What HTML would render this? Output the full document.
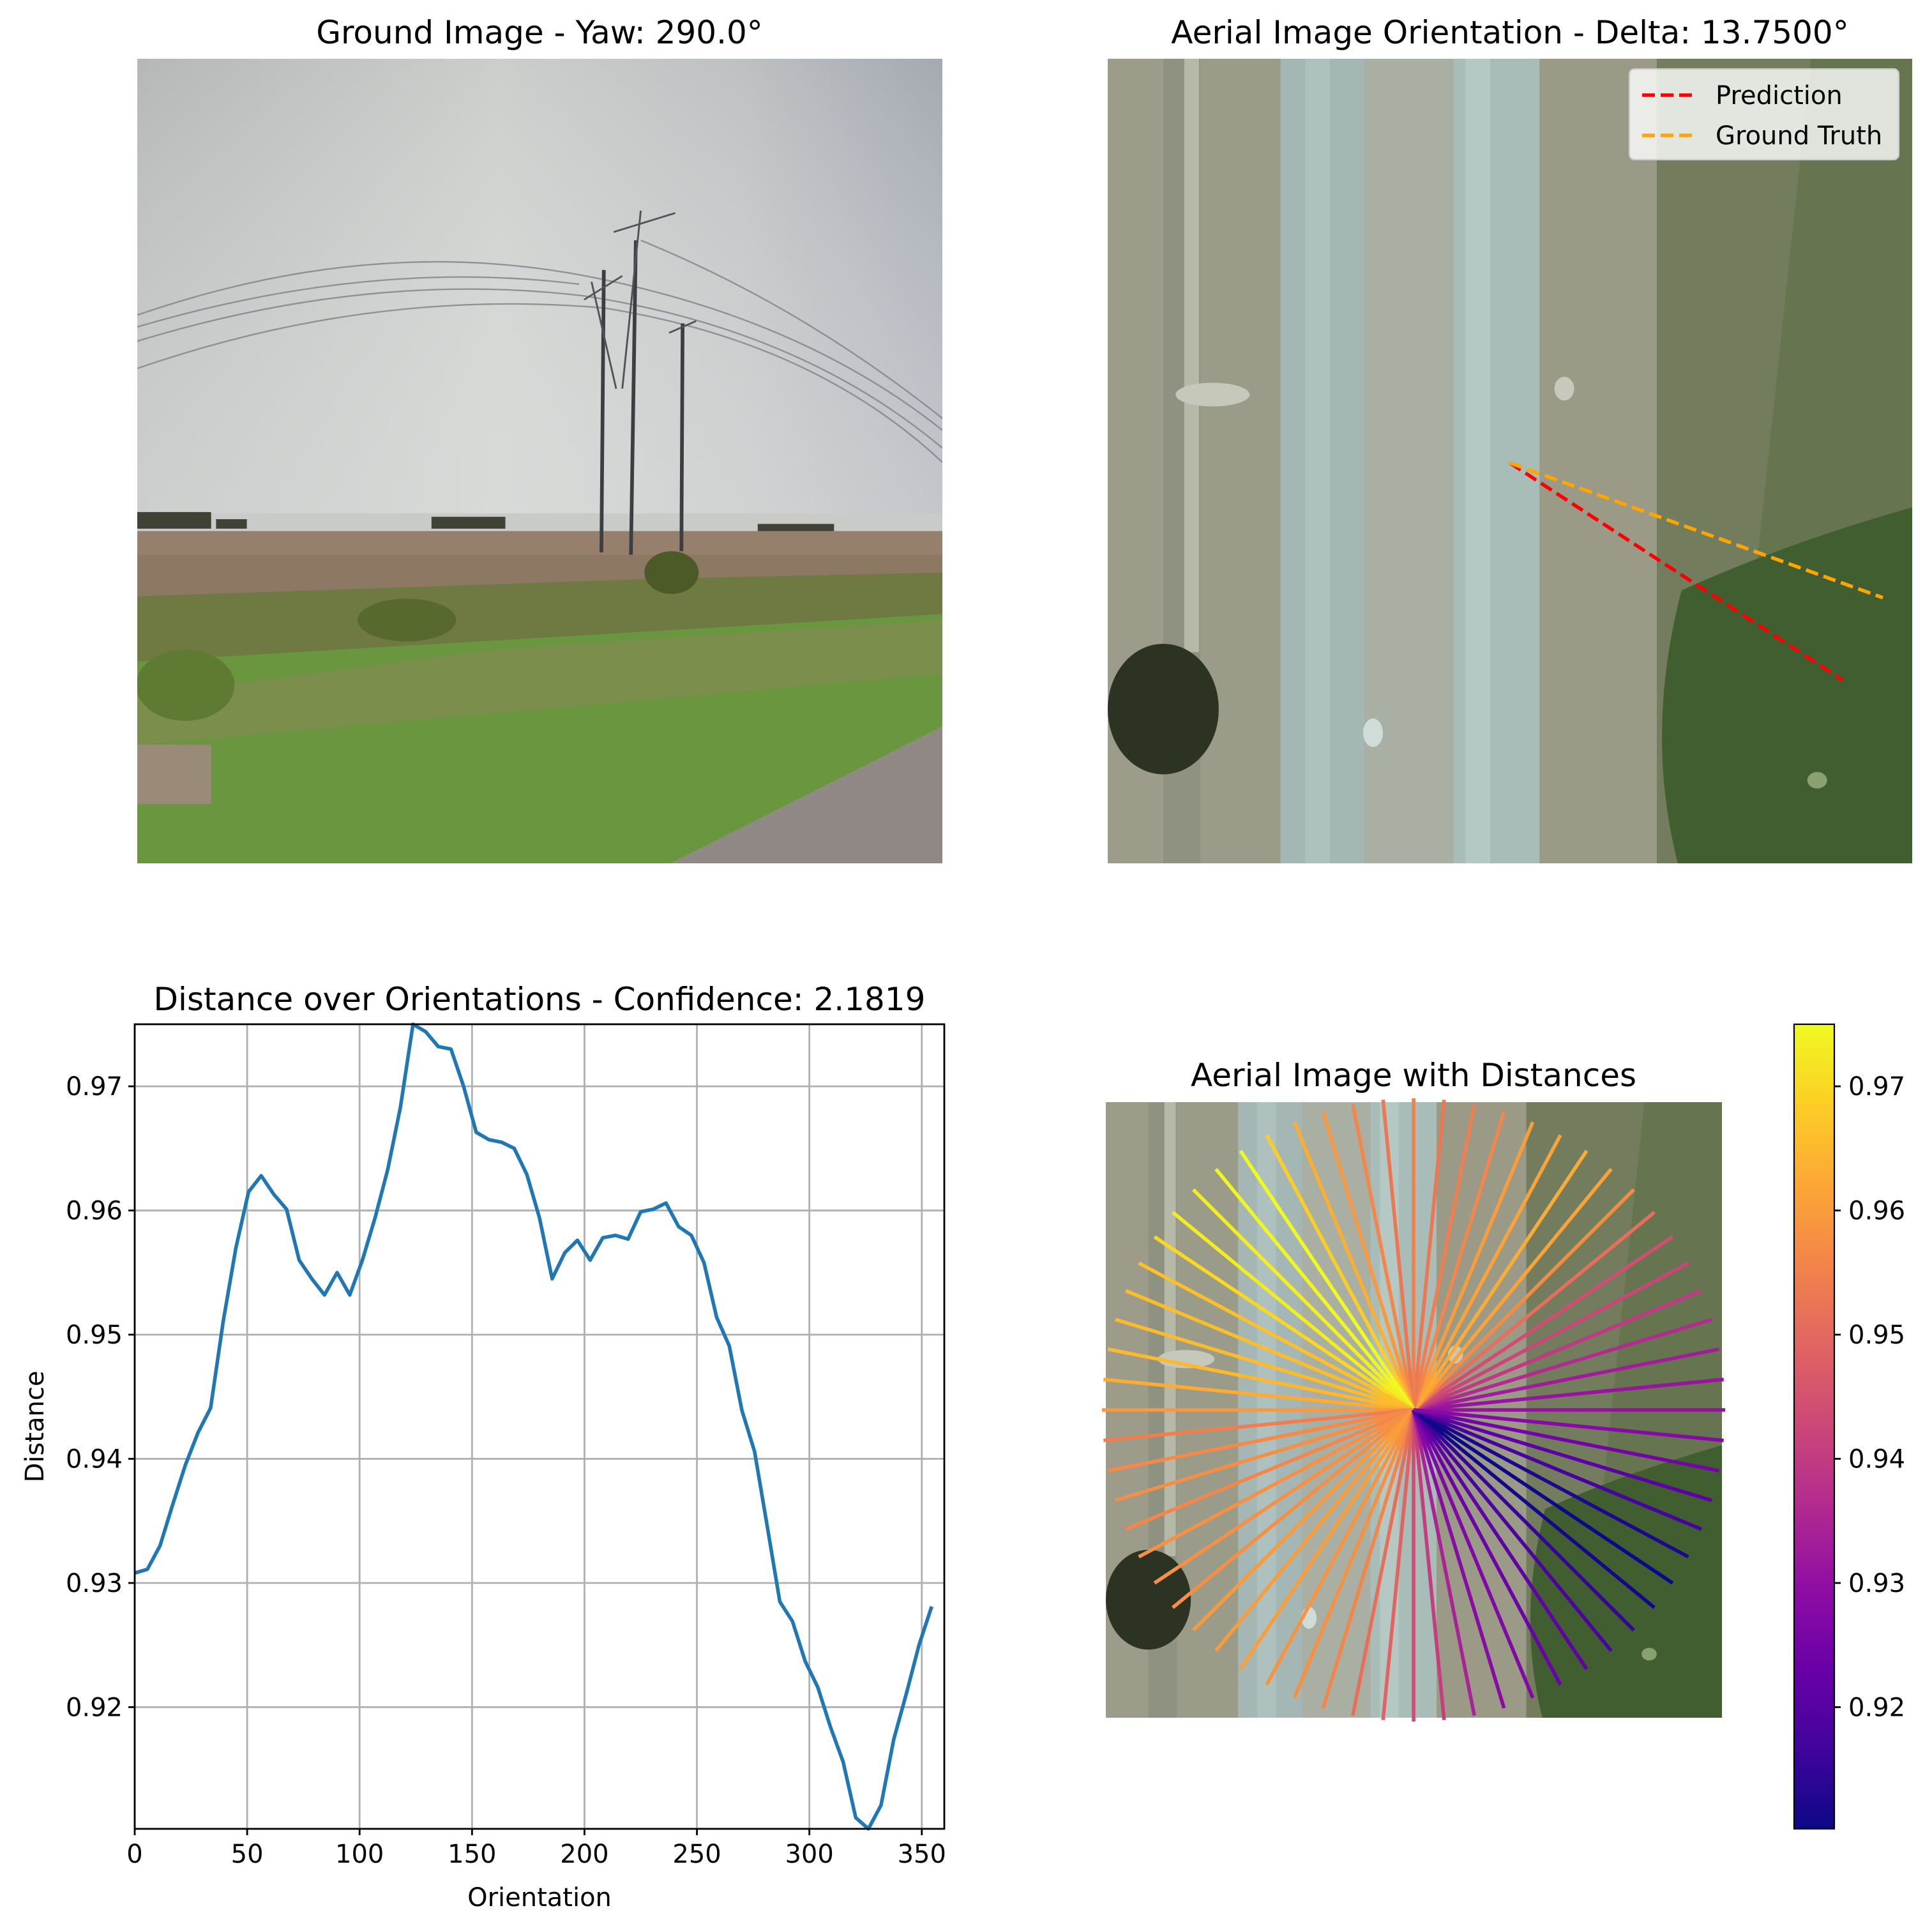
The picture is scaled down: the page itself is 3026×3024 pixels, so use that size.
<!DOCTYPE html>
<html><head><meta charset="utf-8"><style>
html,body{margin:0;padding:0;background:#fff}
svg{display:block}
text{font-family:"DejaVu Sans","Liberation Sans",sans-serif;fill:#000}
</style></head><body>
<svg id="fig" width="3026" height="3024" viewBox="0 0 3026 3024" xmlns="http://www.w3.org/2000/svg">
<defs>
<linearGradient id="skyH" x1="0" x2="1" y1="0" y2="0"><stop offset="0" stop-color="#b6b8b8"/><stop offset="0.45" stop-color="#cbcecb"/><stop offset="0.75" stop-color="#bec1c2"/><stop offset="1" stop-color="#a4a9b2"/></linearGradient>
<linearGradient id="skyV" x1="0" x2="0" y1="0" y2="1"><stop offset="0" stop-color="#fff" stop-opacity="0"/><stop offset="1" stop-color="#e4e6e4" stop-opacity="0.5"/></linearGradient>
<linearGradient id="cbar" x1="0" x2="0" y1="1" y2="0">
<stop offset="0" stop-color="#0d0887"/><stop offset="0.1" stop-color="#41049d"/><stop offset="0.2" stop-color="#6a00a8"/><stop offset="0.3" stop-color="#8f0da4"/><stop offset="0.4" stop-color="#b12a90"/><stop offset="0.5" stop-color="#cc4778"/><stop offset="0.6" stop-color="#e16462"/><stop offset="0.7" stop-color="#f2844b"/><stop offset="0.8" stop-color="#fca636"/><stop offset="0.9" stop-color="#fcce25"/><stop offset="1" stop-color="#f0f921"/></linearGradient>
<symbol id="aerial" viewBox="900 22 652 678" preserveAspectRatio="none">
<rect x="900" y="22" width="652" height="678" fill="#8f9181"/>
<rect x="900" y="22" width="45" height="678" fill="#9d9c8a"/>
<rect x="962" y="22" width="12" height="500" fill="#b6b9a8"/>
<rect x="975" y="22" width="65" height="678" fill="#9a9b89"/>
<rect x="1040" y="22" width="68" height="678" fill="#a5b7b5"/>
<rect x="1060" y="22" width="20" height="678" fill="#afc1bf"/>
<rect x="1108" y="22" width="72" height="678" fill="#a9b0a3"/>
<rect x="1180" y="22" width="70" height="678" fill="#a8bcb8"/>
<rect x="1190" y="22" width="20" height="678" fill="#b6c8c4"/>
<rect x="1250" y="22" width="95" height="678" fill="#9b9a86"/>
<rect x="1345" y="22" width="207" height="678" fill="#737d5e"/>
<path d="M1470,22 L1552,22 L1552,700 L1400,700 Z" fill="#66744f"/>
<path d="M1365,470 Q1335,590 1362,700 L1552,700 L1552,400 Q1450,430 1365,470 Z" fill="#415e31"/>
<ellipse cx="945" cy="570" rx="45" ry="55" fill="#2c3323"/>
<ellipse cx="985" cy="305" rx="30" ry="10" fill="#c6c8bc"/>
<ellipse cx="1270" cy="300" rx="8" ry="10" fill="#c8c8bc"/>
<ellipse cx="1475" cy="630" rx="8" ry="7" fill="#8aa070"/>
<ellipse cx="1115" cy="590" rx="8" ry="12" fill="#d0dcd8"/>
</symbol>
</defs>

<!-- Ground image -->
<text x="845" y="68" font-size="50" text-anchor="middle">Ground Image - Yaw: 290.0°</text>
<svg x="215" y="92" width="1261" height="1260" viewBox="111 22 654 678" preserveAspectRatio="none">
<rect x="111" y="22" width="654" height="400" fill="url(#skyH)"/>
<rect x="111" y="22" width="654" height="400" fill="url(#skyV)"/>
<g fill="none" stroke="#7f8288" stroke-width="1.3" opacity="0.8">
<path d="M111,238 Q300,170 475,205 Q650,240 765,335"/>
<path d="M111,260 Q300,200 475,222 Q650,250 765,350"/>
<path d="M111,283 Q300,215 490,232 Q660,260 765,362"/>
<path d="M111,248 Q300,190 470,212"/>
<path d="M520,175 Q650,230 765,325"/>
</g>
<rect x="111" y="405" width="654" height="17" fill="#c9cbc8"/>
<g fill="#3f4234"><rect x="111" y="404" width="60" height="14"/><rect x="175" y="410" width="25" height="8"/><rect x="350" y="408" width="60" height="10"/><rect x="615" y="414" width="62" height="10"/></g>
<rect x="111" y="420" width="654" height="55" fill="#977f6e"/>
<rect x="111" y="440" width="654" height="35" fill="#8c7863"/>
<path d="M111,475 L540,460 L765,455 L765,520 L111,560 Z" fill="#6e7a42"/>
<path d="M111,530 L765,490 L765,585 L545,700 L111,700 Z" fill="#6a9640"/>
<path d="M111,560 L400,520 L765,495 L765,540 L111,600 Z" fill="#7c8e4c"/>
<rect x="111" y="600" width="60" height="50" fill="#9a8a78"/>
<path d="M765,585 L765,700 L545,700 Z" fill="#908884"/>
<ellipse cx="545" cy="455" rx="22" ry="18" fill="#4c5a28"/>
<ellipse cx="330" cy="495" rx="40" ry="18" fill="#58692e"/>
<ellipse cx="150" cy="550" rx="40" ry="30" fill="#5f7a33"/>
<g stroke="#3c3e44" stroke-width="3" fill="none">
<line x1="490" y1="200" x2="488" y2="438"/>
<line x1="516" y1="175" x2="512" y2="440"/>
<line x1="554" y1="245" x2="553" y2="437"/>
</g>
<g stroke="#50535a" stroke-width="1.5" fill="none">
<line x1="474" y1="225" x2="505" y2="205"/><line x1="498" y1="168" x2="548" y2="152"/><line x1="543" y1="253" x2="565" y2="243"/>
<line x1="480" y1="210" x2="500" y2="300"/><line x1="520" y1="150" x2="505" y2="300"/>
</g>
</svg>

<!-- Aerial top -->
<text x="2365" y="68" font-size="50" text-anchor="middle">Aerial Image Orientation - Delta: 13.7500°</text>
<use href="#aerial" x="1735" y="92" width="1260" height="1260"/>
<line x1="2365" y1="725" x2="2886" y2="1065" stroke="#ff0000" stroke-width="5.5" stroke-dasharray="20,9"/>
<line x1="2365" y1="725" x2="2949" y2="936" stroke="#ffa500" stroke-width="5.5" stroke-dasharray="20,9"/>
<g>
<rect x="2552" y="108" width="422" height="142" rx="8" fill="#ffffff" fill-opacity="0.8" stroke="#cccccc" stroke-width="2.2"/>
<line x1="2572" y1="149" x2="2652" y2="149" stroke="#ff0000" stroke-width="5.5" stroke-dasharray="20,9"/>
<text x="2687" y="163" font-size="40">Prediction</text>
<line x1="2572" y1="212" x2="2652" y2="212" stroke="#ffa500" stroke-width="5.5" stroke-dasharray="20,9"/>
<text x="2687" y="226" font-size="40">Ground Truth</text>
</g>

<!-- Line chart -->
<text x="845" y="1582" font-size="50" text-anchor="middle">Distance over Orientations - Confidence: 2.1819</text>
<g id="chart"></g>
<text x="845" y="2985" font-size="40" text-anchor="middle">Orientation</text>
<text x="0" y="0" font-size="40" text-anchor="middle" transform="translate(68,2234) rotate(-90)">Distance</text>

<!-- Bottom right -->
<text x="2214" y="1701" font-size="50" text-anchor="middle">Aerial Image with Distances</text>
<use href="#aerial" x="1732" y="1726" width="965" height="964"/>
<g id="star"></g>
<rect x="2810" y="1604" width="63" height="1260" fill="url(#cbar)" stroke="#000" stroke-width="2.2"/>
<g id="cbticks"></g>
</svg>
<script>
const orientations = [];
for (let i = 0; i < 64; i++) orientations.push(i * 5.625);
const distances = [0.9308,0.9311,0.9330,0.9363,0.9395,0.9421,0.9441,0.9511,0.9570,0.9615,0.9628,0.9613,0.9601,0.9560,0.9545,0.9532,0.9550,0.9532,0.9560,0.9594,0.9633,0.9683,0.9750,0.9744,0.9732,0.9730,0.9700,0.9663,0.9657,0.9655,0.9650,0.9629,0.9594,0.9545,0.9566,0.9576,0.9560,0.9578,0.9580,0.9577,0.9599,0.9601,0.9606,0.9587,0.9580,0.9558,0.9514,0.9491,0.9439,0.9406,0.9346,0.9285,0.9269,0.9237,0.9216,0.9184,0.9156,0.9111,0.9102,0.9121,0.9174,0.9211,0.9250,0.9281];
const xTicks = [0,50,100,150,200,250,300,350];
const yTicks = [0.92,0.93,0.94,0.95,0.96,0.97];
const yTickLabels = ["0.92","0.93","0.94","0.95","0.96","0.97"];

const NS = "http://www.w3.org/2000/svg";
const vmin = Math.min(...distances), vmax = Math.max(...distances);
const AX = {l:211, r:1479, t:1604, b:2864};
const xS = v => AX.l + v / 360 * (AX.r - AX.l);
const yS = v => AX.t + (vmax - v) / (vmax - vmin) * (AX.b - AX.t);
function mk(tag, attrs, parent) { const e = document.createElementNS(NS, tag); for (const k in attrs) e.setAttribute(k, attrs[k]); parent.appendChild(e); return e; }

const chart = document.getElementById('chart');
xTicks.forEach(t => {
  const g = mk('line', {x1:xS(t), x2:xS(t), y1:AX.t, y2:AX.b, stroke:'#b0b0b0', 'stroke-width':2.8}, chart);
  
  
  const tk = mk('line', {x1:xS(t), x2:xS(t), y1:AX.b, y2:AX.b+10, stroke:'#000', 'stroke-width':2.8}, chart);
  
  
  const tx = mk('text', {x:xS(t), y:AX.b+53, 'font-size':40, 'text-anchor':'middle'}, chart);
  tx.textContent = String(t);
  
  
});
yTicks.forEach((t, i) => {
  const g = mk('line', {x1:AX.l, x2:AX.r, y1:yS(t), y2:yS(t), stroke:'#b0b0b0', 'stroke-width':2.8}, chart);
  
  
  const tk = mk('line', {x1:AX.l-10, x2:AX.l, y1:yS(t), y2:yS(t), stroke:'#000', 'stroke-width':2.8}, chart);
  
  
  const tx = mk('text', {x:AX.l-19, y:yS(t)+14, 'font-size':40, 'text-anchor':'end'}, chart);
  tx.textContent = yTickLabels[i];
  
  
});
const pts = orientations.map((o, i) => xS(o).toFixed(1) + ',' + yS(distances[i]).toFixed(1)).join(' ');
const pl = mk('polyline', {points:pts, fill:'none', stroke:'#1f77b4', 'stroke-width':5.6, 'stroke-linejoin':'round'}, chart);


const fr = mk('rect', {x:AX.l, y:AX.t, width:AX.r-AX.l, height:AX.b-AX.t, fill:'none', stroke:'#000', 'stroke-width':2.8}, chart);



const stops = [[0x0d,0x08,0x87],[0x41,0x04,0x9d],[0x6a,0x00,0xa8],[0x8f,0x0d,0xa4],[0xb1,0x2a,0x90],[0xcc,0x47,0x78],[0xe1,0x64,0x62],[0xf2,0x84,0x4b],[0xfc,0xa6,0x36],[0xfc,0xce,0x25],[0xf0,0xf9,0x21]];
function plasma(t) { t = Math.max(0, Math.min(1, t)) * 10; const i = Math.min(9, Math.floor(t)), f = t - i; const a = stops[i], b = stops[i+1]; return 'rgb(' + a.map((c, k) => Math.round(c + (b[k]-c)*f)).join(',') + ')'; }
const star = document.getElementById('star');
const cx = 2214, cy = 2208, R = 488;
orientations.forEach((o, i) => {
  const a = o * Math.PI / 180;
  const ln = mk('line', {x1:cx, y1:cy, x2:cx + R*Math.cos(a), y2:cy - R*Math.sin(a), stroke:plasma((distances[i]-vmin)/(vmax-vmin)), 'stroke-width':5.6}, star);
  
  
});
const cb = document.getElementById('cbticks');
const cyS = v => 2864 - (v - vmin) / (vmax - vmin) * 1260;
yTicks.forEach((t, i) => {
  const tk = mk('line', {x1:2873, x2:2883, y1:cyS(t), y2:cyS(t), stroke:'#000', 'stroke-width':2.8}, cb);
  
  
  const tx = mk('text', {x:2895, y:cyS(t)+14, 'font-size':40}, cb);
  tx.textContent = yTickLabels[i];
  
  
});
</script>
</body></html>
